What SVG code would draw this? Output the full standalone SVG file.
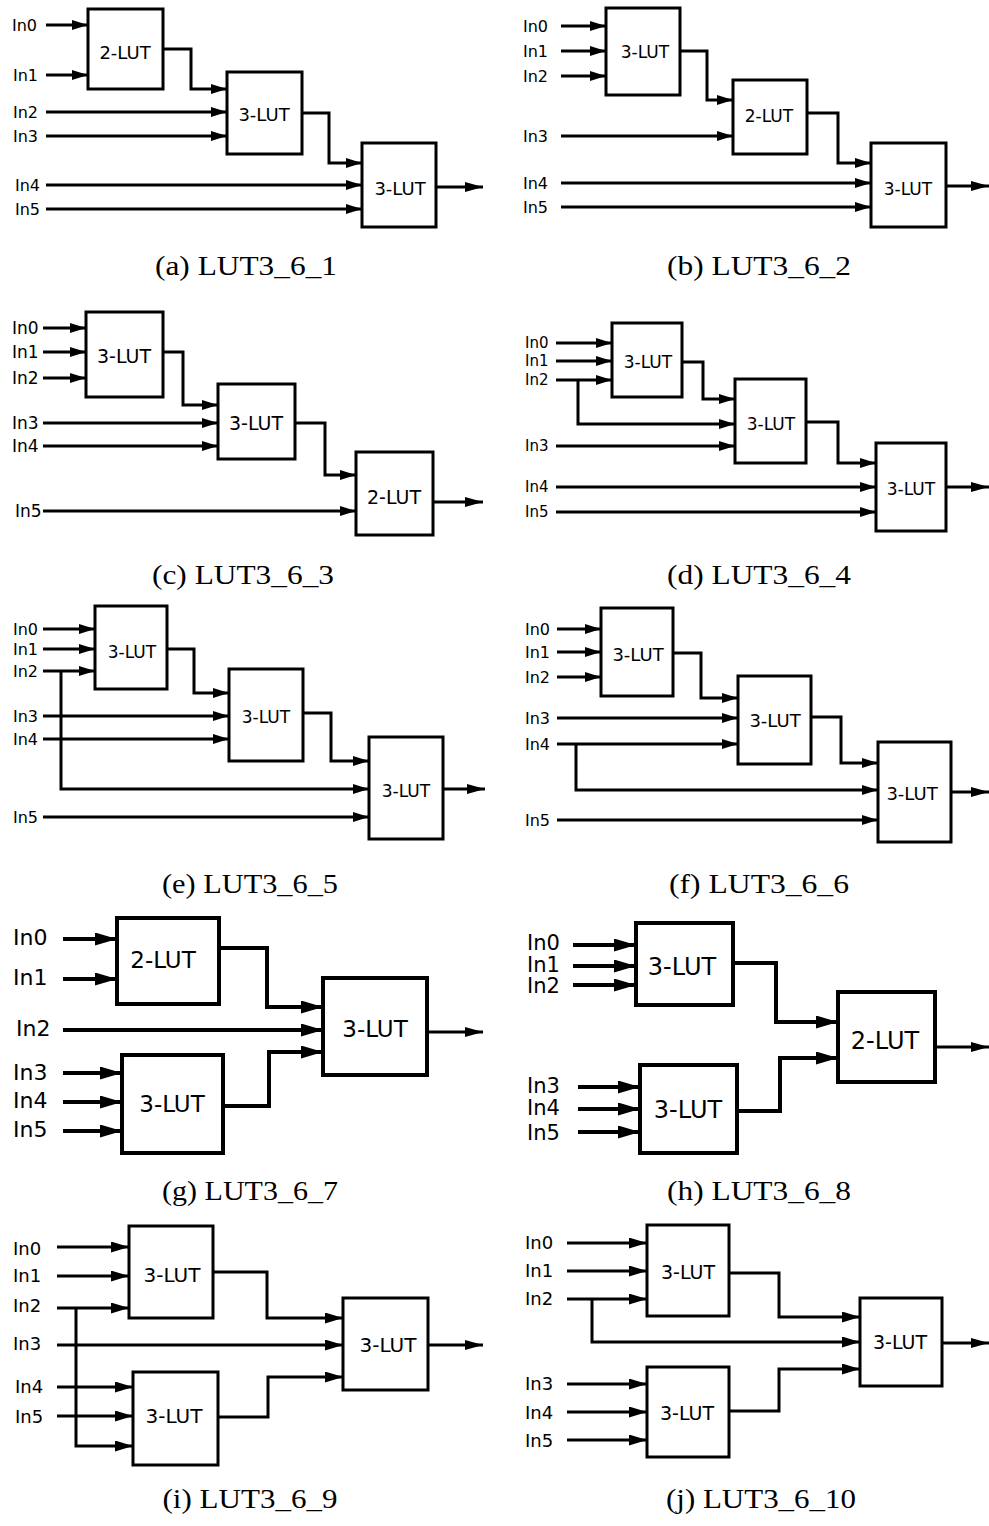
<svg xmlns="http://www.w3.org/2000/svg" width="989" height="1526" viewBox="0 0 989 1526">
<style>
  .bg{fill:#fff}
  .box{fill:#fff;stroke:#000;stroke-width:3}
  .boxL{fill:#fff;stroke:#000;stroke-width:4}
  .w{fill:none;stroke:#000;stroke-width:3;marker-end:url(#ah)}
  .wL{fill:none;stroke:#000;stroke-width:4;marker-end:url(#ahL)}
  .wM{fill:none;stroke:#000;stroke-width:3;marker-end:url(#ahM)}
  .wo{fill:none;stroke:#000;stroke-width:3;marker-end:url(#ahO)}
  .lbl{font-family:"DejaVu Sans","Liberation Sans",sans-serif;fill:#000}
  .t{font-family:"DejaVu Sans","Liberation Sans",sans-serif;fill:#000;text-anchor:middle}
  .cap{font-family:"Liberation Serif","DejaVu Serif",serif;font-size:27px;fill:#000;text-anchor:middle}
</style>
<defs>
  <marker id="ah" markerUnits="userSpaceOnUse" viewBox="0 0 16 10" markerWidth="16" markerHeight="10" refX="16" refY="5" orient="auto"><path d="M0,0 L16,5 L0,10 z" fill="#000"/></marker>
  <marker id="ahO" markerUnits="userSpaceOnUse" viewBox="0 0 18 10" markerWidth="18" markerHeight="10" refX="18" refY="5" orient="auto"><path d="M0,0 L18,5 L0,10 z" fill="#000"/></marker>
  <marker id="ahL" markerUnits="userSpaceOnUse" viewBox="0 0 22 13" markerWidth="22" markerHeight="13" refX="22" refY="6.5" orient="auto"><path d="M0,0 L22,6.5 L0,13 z" fill="#000"/></marker>
  <marker id="ahM" markerUnits="userSpaceOnUse" viewBox="0 0 18 11" markerWidth="18" markerHeight="11" refX="18" refY="5.5" orient="auto"><path d="M0,0 L18,5.5 L0,11 z" fill="#000"/></marker>
</defs>
<rect class="bg" x="0" y="0" width="989" height="1526"/>

<!-- (a) -->
<g id="panel-a">
  <g id="a-connectors">
    <polyline class="w" points="46,25 88,25"/>
    <polyline class="w" points="46,75 88,75"/>
    <polyline class="w" points="163,49 191,49 191,89 227,89"/>
    <polyline class="w" points="46,112 227,112"/>
    <polyline class="w" points="46,136 227,136"/>
    <polyline class="w" points="302,113 329,113 329,163 362,163"/>
    <polyline class="w" points="46,185 362,185"/>
    <polyline class="w" points="46,209 362,209"/>
    <polyline class="wo" points="436,187 483,187"/>
  </g>
  <g id="a-inputs" class="lbl" font-size="16">
    <text x="12" y="31">In0</text><text x="13" y="81">In1</text><text x="13" y="118">In2</text>
    <text x="13" y="142">In3</text><text x="15" y="191">In4</text><text x="15" y="215">In5</text>
  </g>
  <g id="a-lut1"><rect class="box" x="88" y="9" width="75" height="80"/><text class="t" x="125" y="59" font-size="18">2-LUT</text></g>
  <g id="a-lut2"><rect class="box" x="227" y="72" width="75" height="82"/><text class="t" x="264" y="121" font-size="18">3-LUT</text></g>
  <g id="a-lut3"><rect class="box" x="362" y="143" width="74" height="84"/><text class="t" x="400" y="195" font-size="18">3-LUT</text></g>
  <text class="cap" x="246" y="275" textLength="182" lengthAdjust="spacingAndGlyphs">(a) LUT3_6_1</text>
</g>

<!-- (b) -->
<g id="panel-b">
  <g id="b-connectors">
    <polyline class="w" points="561,26 606,26"/>
    <polyline class="w" points="561,51 606,51"/>
    <polyline class="w" points="561,76 606,76"/>
    <polyline class="w" points="680,51 707,51 707,100 733,100"/>
    <polyline class="w" points="561,136 733,136"/>
    <polyline class="w" points="807,113 838,113 838,163 871,163"/>
    <polyline class="w" points="561,183 871,183"/>
    <polyline class="w" points="561,207 871,207"/>
    <polyline class="wo" points="946,186 989,186"/>
  </g>
  <g id="b-inputs" class="lbl" font-size="16">
    <text x="523" y="32">In0</text><text x="523" y="57">In1</text><text x="523" y="82">In2</text>
    <text x="523" y="142">In3</text><text x="523" y="189">In4</text><text x="523" y="213">In5</text>
  </g>
  <g id="b-lut1"><rect class="box" x="606" y="8" width="74" height="87"/><text class="t" x="645" y="58" font-size="17">3-LUT</text></g>
  <g id="b-lut2"><rect class="box" x="733" y="80" width="74" height="74"/><text class="t" x="769" y="122" font-size="17">2-LUT</text></g>
  <g id="b-lut3"><rect class="box" x="871" y="143" width="75" height="84"/><text class="t" x="908" y="195" font-size="17">3-LUT</text></g>
  <text class="cap" x="759" y="275" textLength="184" lengthAdjust="spacingAndGlyphs">(b) LUT3_6_2</text>
</g>

<!-- (c) -->
<g id="panel-c">
  <g id="c-connectors">
    <polyline class="w" points="43,328 86,328"/>
    <polyline class="w" points="43,352 86,352"/>
    <polyline class="w" points="43,378 86,378"/>
    <polyline class="w" points="163,352 183,352 183,405 218,405"/>
    <polyline class="w" points="43,423 218,423"/>
    <polyline class="w" points="43,446 218,446"/>
    <polyline class="w" points="295,423 325,423 325,475 356,475"/>
    <polyline class="w" points="43,511 356,511"/>
    <polyline class="wo" points="433,502 483,502"/>
  </g>
  <g id="c-inputs" class="lbl" font-size="17">
    <text x="12" y="334">In0</text><text x="12" y="358">In1</text><text x="12" y="384">In2</text>
    <text x="12" y="429">In3</text><text x="12" y="452">In4</text><text x="15" y="517">In5</text>
  </g>
  <g id="c-lut1"><rect class="box" x="86" y="312" width="77" height="85"/><text class="t" x="124" y="363" font-size="19">3-LUT</text></g>
  <g id="c-lut2"><rect class="box" x="218" y="384" width="77" height="75"/><text class="t" x="256" y="430" font-size="19">3-LUT</text></g>
  <g id="c-lut3"><rect class="box" x="356" y="452" width="77" height="83"/><text class="t" x="394" y="504" font-size="19">2-LUT</text></g>
  <text class="cap" x="243" y="584" textLength="182" lengthAdjust="spacingAndGlyphs">(c) LUT3_6_3</text>
</g>

<!-- (d) -->
<g id="panel-d">
  <g id="d-connectors">
    <polyline class="w" points="556,343 612,343"/>
    <polyline class="w" points="556,361 612,361"/>
    <polyline class="w" points="556,380 612,380"/>
    <polyline class="w" points="578,380 578,424 735,424"/>
    <polyline class="w" points="682,362 703,362 703,399 735,399"/>
    <polyline class="w" points="556,446 735,446"/>
    <polyline class="w" points="806,422 838,422 838,463 876,463"/>
    <polyline class="w" points="556,487 876,487"/>
    <polyline class="w" points="556,512 876,512"/>
    <polyline class="wo" points="946,487 989,487"/>
  </g>
  <g id="d-inputs" class="lbl" font-size="15">
    <text x="525" y="348">In0</text><text x="525" y="366">In1</text><text x="525" y="385">In2</text>
    <text x="525" y="451">In3</text><text x="525" y="492">In4</text><text x="525" y="517">In5</text>
  </g>
  <g id="d-lut1"><rect class="box" x="612" y="323" width="70" height="74"/><text class="t" x="648" y="368" font-size="17">3-LUT</text></g>
  <g id="d-lut2"><rect class="box" x="735" y="379" width="71" height="84"/><text class="t" x="771" y="430" font-size="17">3-LUT</text></g>
  <g id="d-lut3"><rect class="box" x="876" y="443" width="70" height="88"/><text class="t" x="911" y="495" font-size="17">3-LUT</text></g>
  <text class="cap" x="759" y="584" textLength="184" lengthAdjust="spacingAndGlyphs">(d) LUT3_6_4</text>
</g>

<!-- (e) -->
<g id="panel-e">
  <g id="e-connectors">
    <polyline class="w" points="43,629 95,629"/>
    <polyline class="w" points="43,649 95,649"/>
    <polyline class="w" points="43,671 95,671"/>
    <polyline class="w" points="61,671 61,789 369,789"/>
    <polyline class="w" points="167,649 194,649 194,693 229,693"/>
    <polyline class="w" points="43,716 229,716"/>
    <polyline class="w" points="43,739 229,739"/>
    <polyline class="w" points="303,713 331,713 331,761 369,761"/>
    <polyline class="w" points="43,817 369,817"/>
    <polyline class="wo" points="443,789 485,789"/>
  </g>
  <g id="e-inputs" class="lbl" font-size="16">
    <text x="13" y="635">In0</text><text x="13" y="655">In1</text><text x="13" y="677">In2</text>
    <text x="13" y="722">In3</text><text x="13" y="745">In4</text><text x="13" y="823">In5</text>
  </g>
  <g id="e-lut1"><rect class="box" x="95" y="606" width="72" height="83"/><text class="t" x="132" y="658" font-size="17">3-LUT</text></g>
  <g id="e-lut2"><rect class="box" x="229" y="669" width="74" height="92"/><text class="t" x="266" y="723" font-size="17">3-LUT</text></g>
  <g id="e-lut3"><rect class="box" x="369" y="737" width="74" height="102"/><text class="t" x="406" y="797" font-size="17">3-LUT</text></g>
  <text class="cap" x="250" y="893" textLength="176" lengthAdjust="spacingAndGlyphs">(e) LUT3_6_5</text>
</g>

<!-- (f) -->
<g id="panel-f">
  <g id="f-connectors">
    <polyline class="w" points="557,629 601,629"/>
    <polyline class="w" points="557,652 601,652"/>
    <polyline class="w" points="557,677 601,677"/>
    <polyline class="w" points="673,653 701,653 701,698 738,698"/>
    <polyline class="w" points="557,718 738,718"/>
    <polyline class="w" points="557,744 738,744"/>
    <polyline class="w" points="576,744 576,790 878,790"/>
    <polyline class="w" points="811,717 841,717 841,763 878,763"/>
    <polyline class="w" points="557,820 878,820"/>
    <polyline class="wo" points="951,792 989,792"/>
  </g>
  <g id="f-inputs" class="lbl" font-size="16">
    <text x="525" y="635">In0</text><text x="525" y="658">In1</text><text x="525" y="683">In2</text>
    <text x="525" y="724">In3</text><text x="525" y="750">In4</text><text x="525" y="826">In5</text>
  </g>
  <g id="f-lut1"><rect class="box" x="601" y="608" width="72" height="88"/><text class="t" x="638" y="661" font-size="18">3-LUT</text></g>
  <g id="f-lut2"><rect class="box" x="738" y="676" width="73" height="88"/><text class="t" x="775" y="727" font-size="18">3-LUT</text></g>
  <g id="f-lut3"><rect class="box" x="878" y="742" width="73" height="100"/><text class="t" x="912" y="800" font-size="18">3-LUT</text></g>
  <text class="cap" x="759" y="893" textLength="180" lengthAdjust="spacingAndGlyphs">(f) LUT3_6_6</text>
</g>

<!-- (g) -->
<g id="panel-g">
  <g id="g-connectors">
    <polyline class="wL" points="63,939 117,939"/>
    <polyline class="wL" points="63,979 117,979"/>
    <polyline class="wL" points="219,948 267,948 267,1007 323,1007"/>
    <polyline class="wL" points="63,1030 323,1030"/>
    <polyline class="wL" points="63,1073 122,1073"/>
    <polyline class="wL" points="63,1102 122,1102"/>
    <polyline class="wL" points="63,1131 122,1131"/>
    <polyline class="wL" points="223,1106 269,1106 269,1052 323,1052"/>
    <polyline class="wo" points="427,1032 483,1032"/>
  </g>
  <g id="g-inputs" class="lbl" font-size="22">
    <text x="13" y="945">In0</text><text x="13" y="985">In1</text><text x="16" y="1036">In2</text>
    <text x="13" y="1080">In3</text><text x="13" y="1108">In4</text><text x="13" y="1137">In5</text>
  </g>
  <g id="g-lut1"><rect class="boxL" x="117" y="918" width="102" height="86"/><text class="t" x="163" y="968" font-size="23">2-LUT</text></g>
  <g id="g-lut2"><rect class="boxL" x="122" y="1055" width="101" height="98"/><text class="t" x="172" y="1112" font-size="23">3-LUT</text></g>
  <g id="g-lut3"><rect class="boxL" x="323" y="978" width="104" height="97"/><text class="t" x="375" y="1037" font-size="23">3-LUT</text></g>
  <text class="cap" x="250" y="1200" textLength="176" lengthAdjust="spacingAndGlyphs">(g) LUT3_6_7</text>
</g>

<!-- (h) -->
<g id="panel-h">
  <g id="h-connectors">
    <polyline class="wL" points="573,945 636,945"/>
    <polyline class="wL" points="573,966 636,966"/>
    <polyline class="wL" points="573,985 636,985"/>
    <polyline class="wL" points="733,963 776,963 776,1022 838,1022"/>
    <polyline class="wL" points="578,1087 640,1087"/>
    <polyline class="wL" points="578,1109 640,1109"/>
    <polyline class="wL" points="578,1132 640,1132"/>
    <polyline class="wL" points="737,1111 780,1111 780,1058 838,1058"/>
    <polyline class="wo" points="935,1047 989,1047"/>
  </g>
  <g id="h-inputs" class="lbl" font-size="21">
    <text x="527" y="950">In0</text><text x="527" y="972">In1</text><text x="527" y="993">In2</text>
    <text x="527" y="1093">In3</text><text x="527" y="1115">In4</text><text x="527" y="1140">In5</text>
  </g>
  <g id="h-lut1"><rect class="boxL" x="636" y="923" width="97" height="82"/><text class="t" x="682" y="975" font-size="24">3-LUT</text></g>
  <g id="h-lut2"><rect class="boxL" x="640" y="1065" width="97" height="88"/><text class="t" x="688" y="1118" font-size="24">3-LUT</text></g>
  <g id="h-lut3"><rect class="boxL" x="838" y="992" width="97" height="90"/><text class="t" x="885" y="1049" font-size="24">2-LUT</text></g>
  <text class="cap" x="759" y="1200" textLength="184" lengthAdjust="spacingAndGlyphs">(h) LUT3_6_8</text>
</g>

<!-- (i) -->
<g id="panel-i">
  <g id="i-connectors">
    <polyline class="wM" points="57,1247 129,1247"/>
    <polyline class="wM" points="57,1276 129,1276"/>
    <polyline class="wM" points="57,1308 129,1308"/>
    <polyline class="wM" points="76,1308 76,1446 133,1446"/>
    <polyline class="wM" points="213,1272 267,1272 267,1318 343,1318"/>
    <polyline class="wM" points="57,1345 343,1345"/>
    <polyline class="wM" points="57,1387 133,1387"/>
    <polyline class="wM" points="57,1416 133,1416"/>
    <polyline class="wM" points="218,1417 268,1417 268,1377 343,1377"/>
    <polyline class="wo" points="428,1345 483,1345"/>
  </g>
  <g id="i-inputs" class="lbl" font-size="18">
    <text x="13" y="1255">In0</text><text x="13" y="1282">In1</text><text x="13" y="1312">In2</text>
    <text x="13" y="1350">In3</text><text x="15" y="1393">In4</text><text x="15" y="1423">In5</text>
  </g>
  <g id="i-lut1"><rect class="box" x="129" y="1226" width="84" height="92"/><text class="t" x="172" y="1282" font-size="20">3-LUT</text></g>
  <g id="i-lut2"><rect class="box" x="133" y="1372" width="85" height="93"/><text class="t" x="174" y="1423" font-size="20">3-LUT</text></g>
  <g id="i-lut3"><rect class="box" x="343" y="1298" width="85" height="92"/><text class="t" x="388" y="1352" font-size="20">3-LUT</text></g>
  <text class="cap" x="250" y="1508" textLength="175" lengthAdjust="spacingAndGlyphs">(i) LUT3_6_9</text>
</g>

<!-- (j) -->
<g id="panel-j">
  <g id="j-connectors">
    <polyline class="wM" points="567,1243 647,1243"/>
    <polyline class="wM" points="567,1271 647,1271"/>
    <polyline class="wM" points="567,1299 647,1299"/>
    <polyline class="wM" points="592,1299 592,1342 860,1342"/>
    <polyline class="wM" points="729,1273 779,1273 779,1317 860,1317"/>
    <polyline class="wM" points="567,1384 647,1384"/>
    <polyline class="wM" points="567,1412 647,1412"/>
    <polyline class="wM" points="567,1440 647,1440"/>
    <polyline class="wM" points="729,1411 779,1411 779,1369 860,1369"/>
    <polyline class="wo" points="942,1343 989,1343"/>
  </g>
  <g id="j-inputs" class="lbl" font-size="18">
    <text x="525" y="1249">In0</text><text x="525" y="1277">In1</text><text x="525" y="1305">In2</text>
    <text x="525" y="1390">In3</text><text x="525" y="1419">In4</text><text x="525" y="1447">In5</text>
  </g>
  <g id="j-lut1"><rect class="box" x="647" y="1225" width="82" height="91"/><text class="t" x="688" y="1279" font-size="19">3-LUT</text></g>
  <g id="j-lut2"><rect class="box" x="647" y="1367" width="82" height="90"/><text class="t" x="687" y="1420" font-size="19">3-LUT</text></g>
  <g id="j-lut3"><rect class="box" x="860" y="1298" width="82" height="88"/><text class="t" x="900" y="1349" font-size="19">3-LUT</text></g>
  <text class="cap" x="761" y="1508" textLength="190" lengthAdjust="spacingAndGlyphs">(j) LUT3_6_10</text>
</g>
</svg>
